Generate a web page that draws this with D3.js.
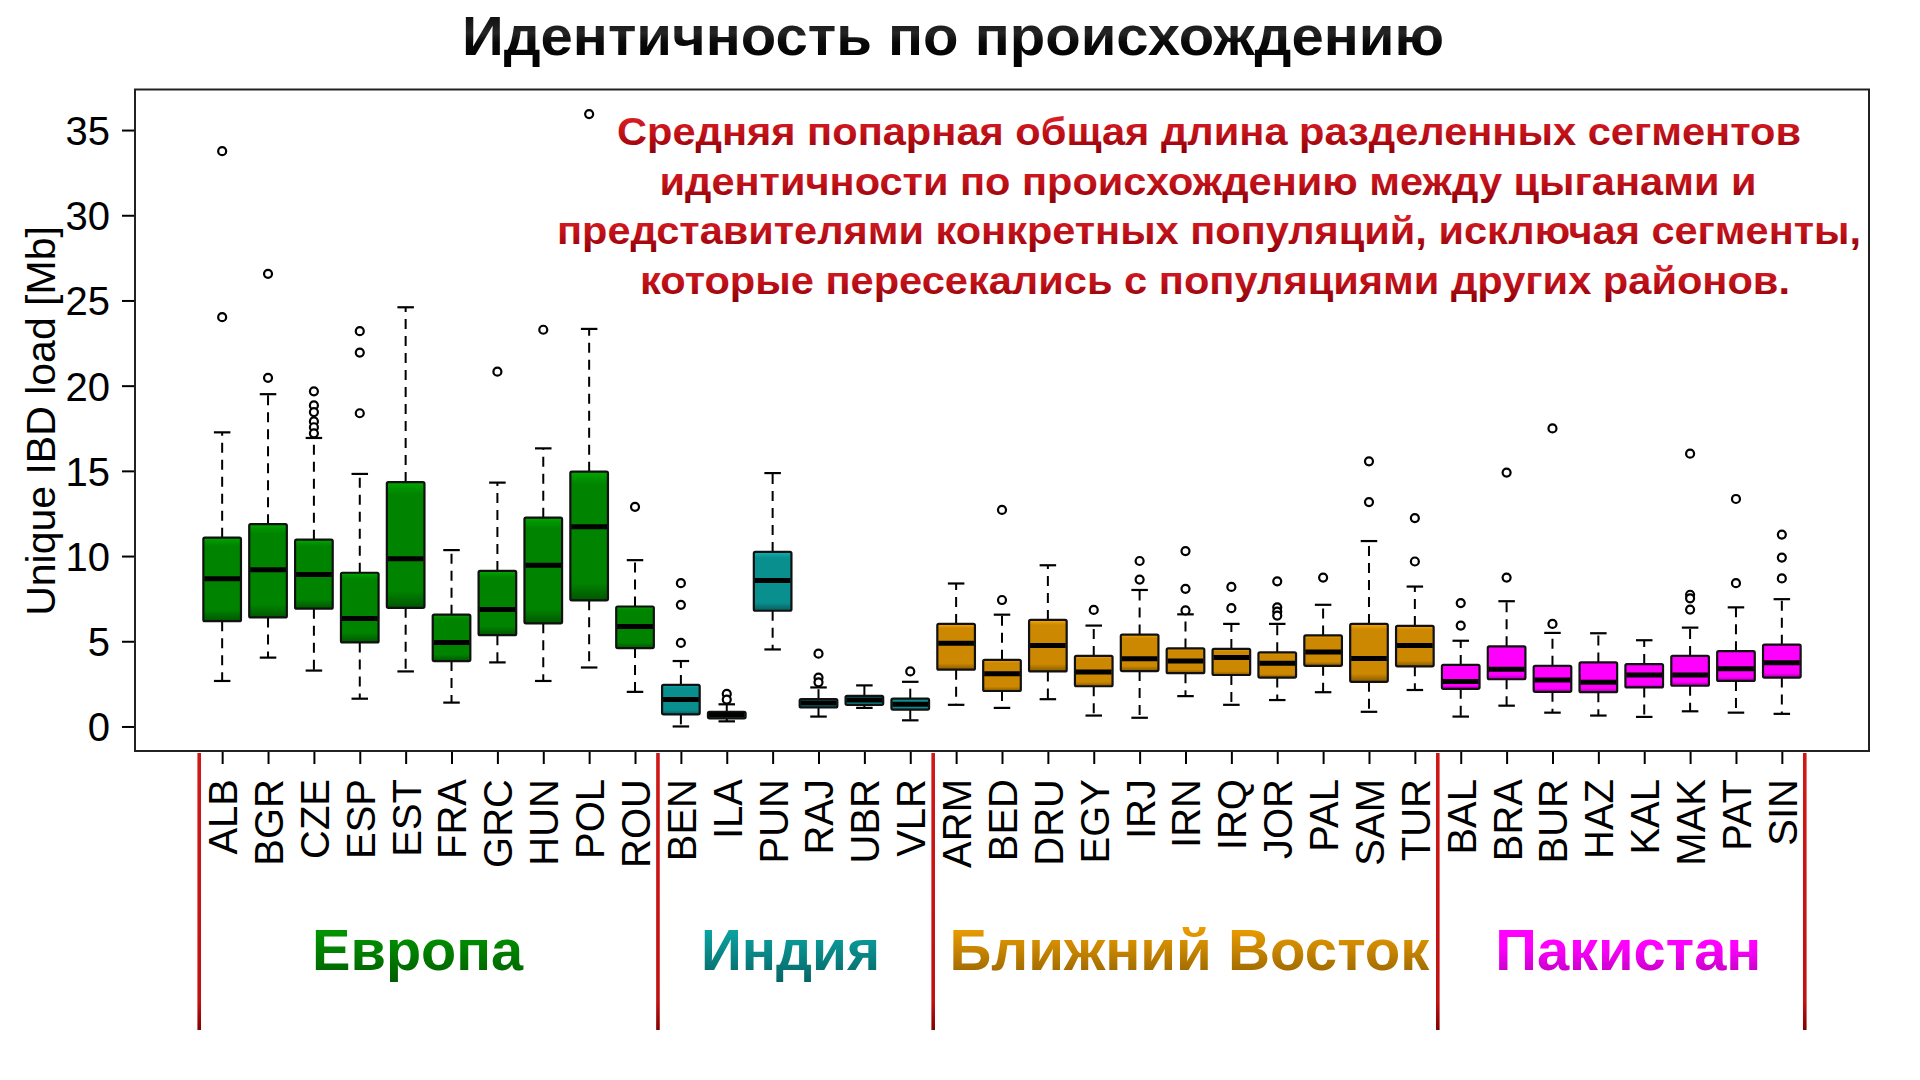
<!DOCTYPE html>
<html><head><meta charset="utf-8">
<script src="https://cdn.jsdelivr.net/npm/d3@7"></script>
<style>
html,body{margin:0;padding:0;background:#fff;}
svg{display:block;font-family:"Liberation Sans",Arial,Helvetica,sans-serif;}
</style></head>
<body>
<script>
// ---------------- DATA ----------------
const pops = ["ALB","BGR","CZE","ESP","EST","FRA","GRC","HUN","POL","ROU",
  "BEN","ILA","PUN","RAJ","UBR","VLR",
  "ARM","BED","DRU","EGY","IRJ","IRN","IRQ","JOR","PAL","SAM","TUR",
  "BAL","BRA","BUR","HAZ","KAL","MAK","PAT","SIN"];
const groupNames = ["Европа","Индия","Ближний Восток","Пакистан"];
const groupSizes = [10,6,11,8];
const groupColors = ["#008400","#0a8f8f","#cc8800","#ff00ff"];
const whiskerLow = [2.67,4.04,3.28,1.63,3.23,1.4,3.76,2.67,3.46,2.03,
  0,0.3,4.52,0.58,1.09,0.36,
  1.27,1.09,1.6,0.64,0.51,1.78,1.27,1.55,2.01,0.86,2.14,
  0.58,1.22,0.81,0.64,0.56,0.89,0.81,0.74];
const q1 = [6.18,6.4,6.91,4.93,6.96,3.84,5.36,6.05,7.4,4.6,
  0.71,0.48,6.79,1.12,1.27,0.99,
  3.33,2.08,3.23,2.36,3.25,3.13,3.02,2.87,3.56,2.62,3.53,
  2.21,2.77,2.03,2.01,2.29,2.39,2.67,2.87];
const median = [8.67,9.2,8.92,6.33,9.84,4.93,6.86,9.46,11.72,5.87,
  1.58,0.69,8.57,1.37,1.55,1.3,
  4.88,3.1,4.75,3.2,3.97,3.84,4.04,3.71,4.37,3.99,4.75,
  2.64,3.36,2.72,2.59,3.02,3.02,3.38,3.74];
const q3 = [11.08,11.87,10.96,9.02,14.34,6.56,9.13,12.25,14.95,7.04,
  2.44,0.86,10.24,1.6,1.8,1.63,
  6.02,3.91,6.25,4.14,5.39,4.58,4.55,4.35,5.34,6.02,5.9,
  3.61,4.7,3.56,3.76,3.66,4.14,4.42,4.8];
const whiskerHigh = [17.26,19.5,16.93,14.82,24.6,10.35,14.31,16.32,23.33,9.76,
  3.84,1.3,14.87,2.29,2.41,2.62,
  8.39,6.56,9.46,5.92,8.01,6.58,6.02,6.02,7.14,10.88,8.21,
  5.03,7.35,5.49,5.47,5.06,5.8,6.99,7.47];
const outliers = [[33.76,24.02],[26.56,20.46],[19.67,18.84,18.45,17.9,17.56,17.2],[23.2,21.94,18.38],[],[],[20.82],[23.28],[35.94],[12.89],
  [8.41,7.14,4.9],[1.91,1.58],[],[4.27,2.87,2.59],[],[3.23],
  [],[12.71,7.42],[],[6.84],[9.71,8.62],[10.29,8.08,6.81],[8.19,6.94],[8.52,6.99,6.74,6.51],[8.74],[15.56,13.17],[12.23,9.68],
  [7.24,5.92],[14.9,8.74],[17.49,6.02],[],[],[16.01,7.73,7.52,6.86],[13.35,8.41],[11.26,9.91,8.69]];
const yTicks = [0,5,10,15,20,25,30,35];
const title = "Идентичность по происхождению";
const yLabel = "Unique IBD load [Mb]";
const noteLines = ["Средняя попарная общая длина разделенных сегментов",
  "идентичности по происхождению между цыганами и",
  "представителями конкретных популяций, исключая сегменты,",
  "которые пересекались с популяциями других районов."];

// ---------------- LAYOUT ----------------
const W = 1920, H = 1080;
const plot = {left:135, right:1869, top:89.5, bottom:751};
const svg = d3.select("body").append("svg").attr("width",W).attr("height",H);
const defs = svg.append("defs");

const x = d3.scaleLinear().domain([-0.9, 36.9]).range([plot.left, plot.right]);
const y = d3.scaleLinear().domain([-1.44, 37.38]).range([plot.bottom, plot.top]);
const step = x(2) - x(1);

const groupOf = [];
groupSizes.forEach((n,g)=>{ for(let k=0;k<n;k++) groupOf.push(g); });
const groupStart = groupSizes.map((n,g)=> d3.sum(groupSizes.slice(0,g)));

function grad(id, stops){
  const lg = defs.append("linearGradient").attr("id",id).attr("x1",0).attr("y1",0).attr("x2",0).attr("y2",1);
  stops.forEach(s=> lg.append("stop").attr("offset",s[0]).attr("stop-color",s[1]));
}
groupColors.forEach((c,g)=>{
  const base = d3.color(c);
  grad("box"+g, [[0, base.brighter(0.7)],[0.05, base.brighter(0.3)],[0.1, base],[0.86, base],[1, base.darker(1.2)]]);
  grad("lab"+g, [[0, base.brighter(0.6)],[0.45, base],[1, base.darker(1.0)]]);
});
grad("titleGrad", [[0,"#000"],[0.45,"#262626"],[0.6,"#080808"],[1,"#000"]]);
grad("noteGrad", [[0,"#e02428"],[0.5,"#c4121a"],[1,"#8c0008"]]);
grad("redLine", [[0,"#d01818"],[0.9,"#c01010"],[1,"#800000"]]);

// title
svg.append("text").attr("x",953).attr("y",55).attr("text-anchor","middle")
  .attr("font-family","'Liberation Sans Narrow','Arial Narrow','Liberation Sans',sans-serif")
  .attr("font-weight","bold").attr("font-size",55)
  .attr("textLength",982).attr("lengthAdjust","spacingAndGlyphs")
  .attr("fill","url(#titleGrad)").text(title);

// y axis
const yAxis = svg.append("g").attr("transform",`translate(${plot.left},0)`)
  .call(d3.axisLeft(y).tickValues(yTicks).tickSize(13).tickPadding(12));
yAxis.select(".domain").remove();
yAxis.selectAll("line").attr("stroke","#000").attr("stroke-width",2);
yAxis.selectAll("text").attr("font-size",40).attr("fill","#000")
  .attr("font-family","'Liberation Sans',Arial,sans-serif").attr("dy","0.36em");

svg.append("text").attr("transform","translate(55,421) rotate(-90)")
  .attr("text-anchor","middle").attr("font-size",41).attr("fill","#000").text(yLabel);

// x axis
const xAxis = svg.append("g").attr("transform",`translate(0,${plot.bottom})`)
  .call(d3.axisBottom(x).tickValues(d3.range(1, pops.length+1)).tickSize(13)
    .tickFormat(d=>pops[d-1]));
xAxis.select(".domain").remove();
xAxis.selectAll("line").attr("stroke","#000").attr("stroke-width",2);
xAxis.selectAll("text").attr("font-size",40).attr("fill","#000")
  .attr("font-family","'Liberation Sans',Arial,sans-serif")
  .attr("transform","rotate(-90)").attr("text-anchor","end")
  .attr("x",-28).attr("y",0).attr("dy","0.36em");

// red separators
const seps = [0.5].concat(groupSizes.map((n,g)=> groupStart[g]+n+0.5));
svg.selectAll(".sep").data(seps).enter().append("rect")
  .attr("x",d=>x(d)-1.8).attr("y",plot.bottom+2).attr("width",3.6).attr("height",1030-plot.bottom-2)
  .attr("fill","url(#redLine)");

// group labels
const labShift = [-11,-5,4,7];
const labLen = [211,179,480,266];
groupNames.forEach((name,g)=>{
  const cx = x(groupStart[g] + (groupSizes[g]+1)/2) + labShift[g];
  svg.append("text").attr("x",cx).attr("y",970).attr("text-anchor","middle")
    .attr("font-family","'Liberation Sans Narrow','Arial Narrow','Liberation Sans',sans-serif")
    .attr("font-weight","bold").attr("font-size",57)
    .attr("textLength",labLen[g]).attr("lengthAdjust","spacingAndGlyphs")
    .attr("fill","url(#lab"+g+")").text(name);
});

// note text
const noteLen = [1184,1097,1304,1150];
const noteX = [1209,1208,1209,1215];
noteLines.forEach((t,i)=>{
  svg.append("text").attr("x",noteX[i]).attr("y",145+i*49.5).attr("text-anchor","middle")
    .attr("font-weight","bold").attr("font-size",38)
    .attr("textLength",noteLen[i]).attr("lengthAdjust","spacingAndGlyphs")
    .attr("fill","url(#noteGrad)").text(t);
});

// boxplots
const boxW = 0.82*step, capW = 0.36*step;
const bx = svg.append("g");
pops.forEach((p,i)=>{
  const cx = x(i+1), g = groupOf[i];
  const gg = bx.append("g");
  gg.append("line").attr("x1",cx).attr("x2",cx).attr("y1",y(q3[i])).attr("y2",y(whiskerHigh[i]))
    .attr("stroke","#000").attr("stroke-width",2).attr("stroke-dasharray","10,7");
  gg.append("line").attr("x1",cx).attr("x2",cx).attr("y1",y(q1[i])).attr("y2",y(whiskerLow[i]))
    .attr("stroke","#000").attr("stroke-width",2).attr("stroke-dasharray","10,7");
  [whiskerHigh[i], whiskerLow[i]].forEach(v=>{
    gg.append("line").attr("x1",cx-capW/2).attr("x2",cx+capW/2).attr("y1",y(v)).attr("y2",y(v))
      .attr("stroke","#000").attr("stroke-width",2.2);
  });
  gg.append("rect").attr("x",cx-boxW/2).attr("y",y(q3[i])).attr("width",boxW)
    .attr("height",Math.max(2, y(q1[i])-y(q3[i])))
    .attr("fill","url(#box"+g+")").attr("stroke","#111").attr("stroke-width",2.2).attr("rx",1.5);
  gg.append("line").attr("x1",cx-boxW/2+1).attr("x2",cx+boxW/2-1).attr("y1",y(median[i])).attr("y2",y(median[i]))
    .attr("stroke","#000").attr("stroke-width",5);
  outliers[i].forEach(v=>{
    gg.append("circle").attr("cx",cx).attr("cy",y(v)).attr("r",4)
      .attr("fill","#fff").attr("stroke","#000").attr("stroke-width",2.2);
  });
});

// plot frame
svg.append("rect").attr("x",plot.left).attr("y",plot.top)
  .attr("width",plot.right-plot.left).attr("height",plot.bottom-plot.top)
  .attr("fill","none").attr("stroke","#222").attr("stroke-width",2);
</script>
</body></html>
